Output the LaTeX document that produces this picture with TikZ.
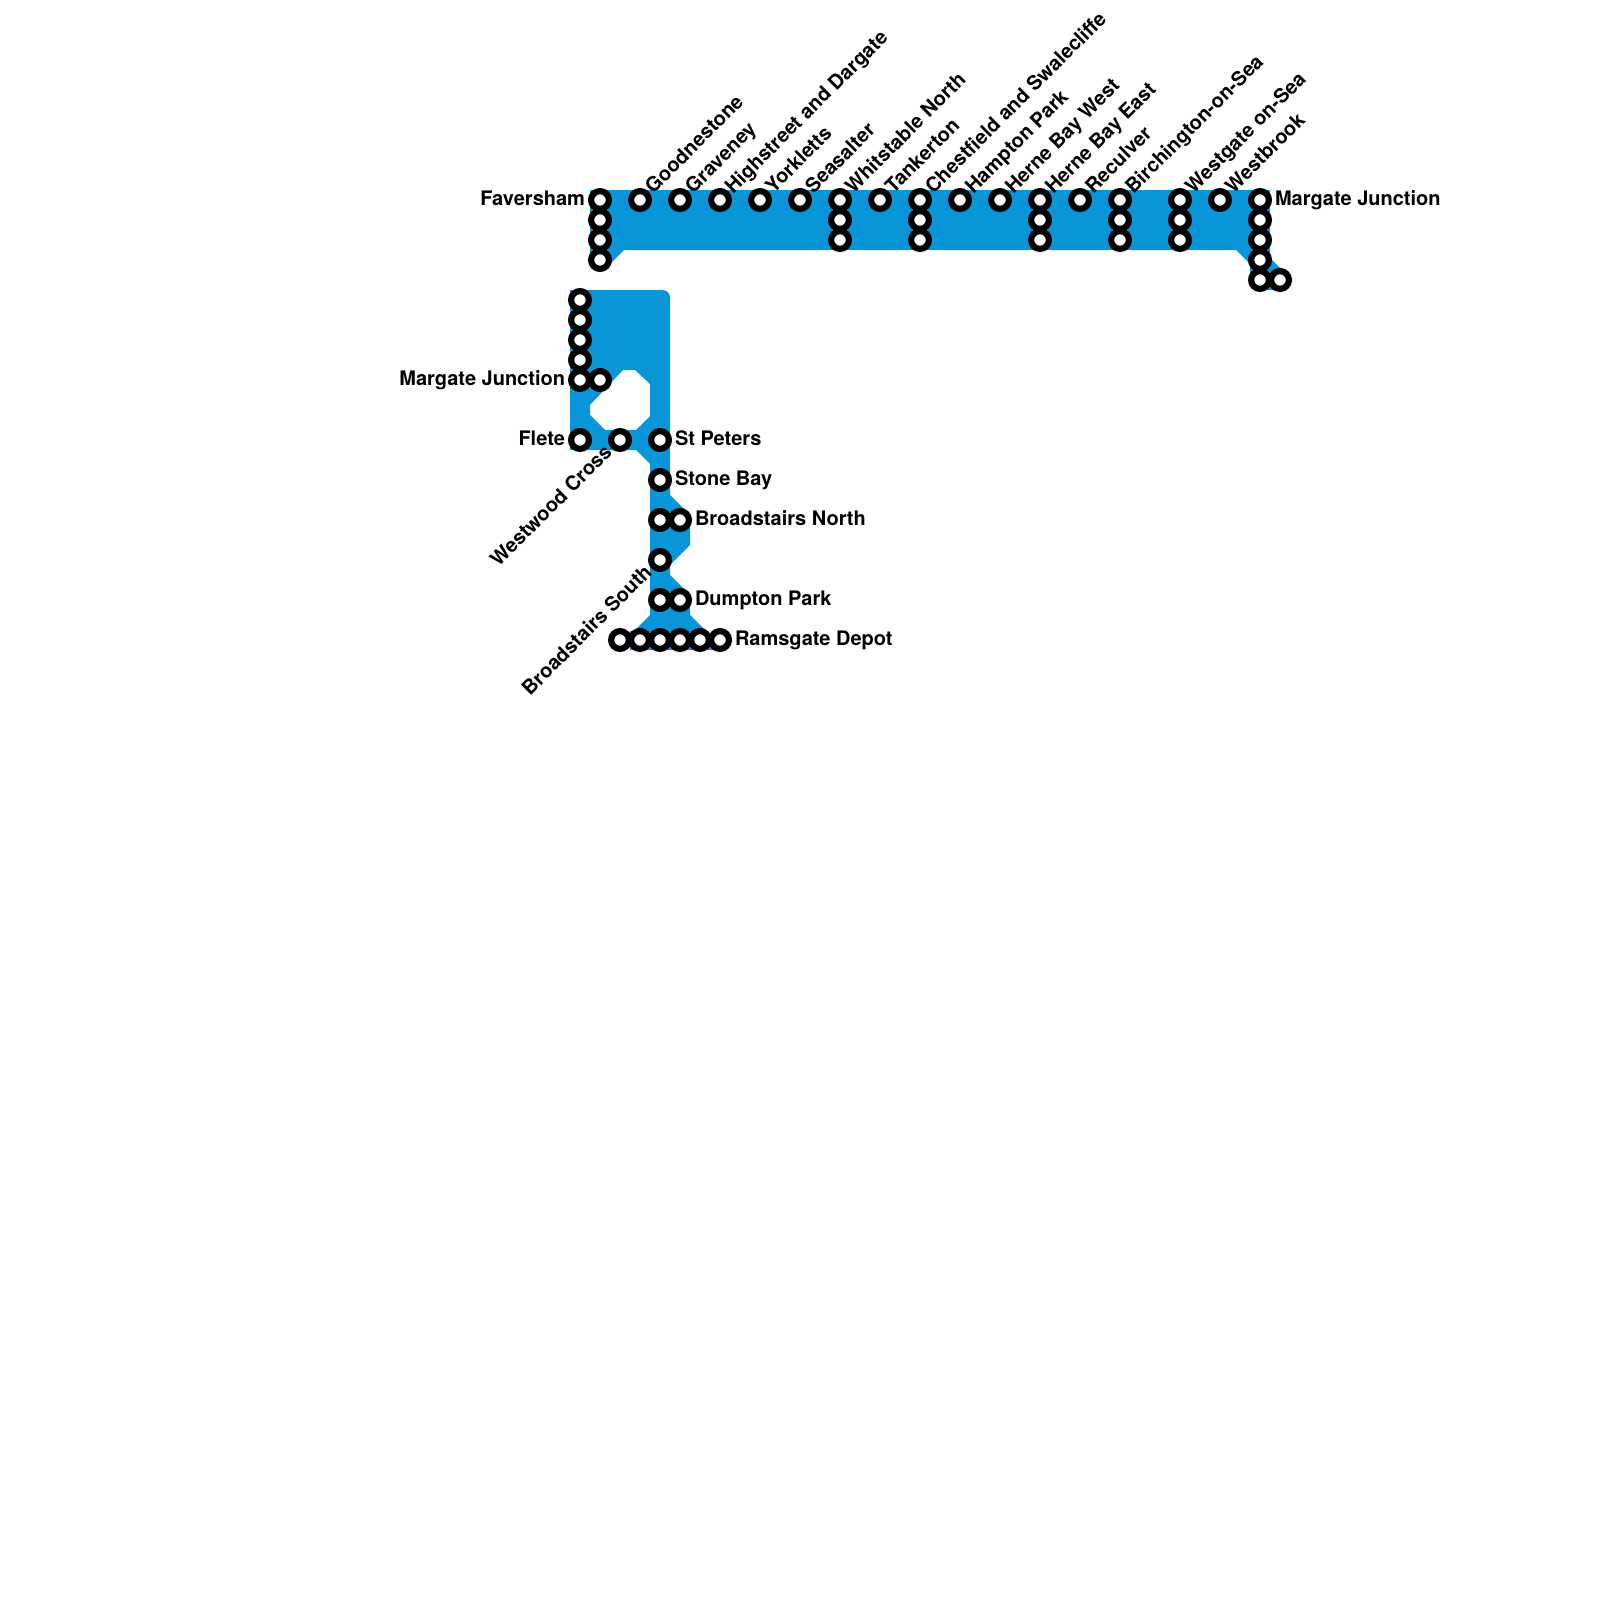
\documentclass[tikz,border=0pt]{standalone}
\usepackage{fontspec}
\setmainfont{TeX Gyre Heros}
\definecolor{lineblue}{HTML}{0996D8}
\tikzset{
  st/.style={circle,draw=black,fill=white,line width=3.1pt,minimum size=8.9pt,inner sep=0pt,outer sep=0pt},
  lab/.style={font=\bfseries\fontsize{10}{12}\selectfont,inner sep=0pt,outer sep=0pt,text=black,text height=7.5pt,text depth=2pt},
  labE/.style={lab,anchor=west},
  labW/.style={lab,anchor=east},
  labNE/.style={lab,anchor=west,rotate=45},
  labSW/.style={lab,anchor=east,rotate=45},
  band/.style={fill=lineblue,draw=none}
}
\begin{document}
\begin{tikzpicture}[x=0.5pt,y=-0.5pt]
\useasboundingbox (0,0) rectangle (1600,1600);
% bands
\fill[band] (590,190) -- (1270,190) -- (1270,258) -- (1284,272) -- (1280,290) -- (1258,290) -- (1250,280) -- (1250,264) -- (1236,250) -- (624,250) -- (606,268) -- (600,262) -- (590,262) -- cycle;
\fill[band,even odd rule] (570,290) -- (662,290) .. controls (667,290) and (670,293) .. (670,298) -- (670,495) -- (690,515) -- (690,545) -- (670,565) -- (670,575) -- (690,595) -- (690,615) -- (710,635) -- (716,650) -- (630,650) -- (628,632) -- (635,630) -- (650,615) -- (650,464) -- (636,450) -- (570,450) -- cycle
 (623,370) -- (635,370) -- (650,384) -- (650,416) -- (636,430) -- (605,430) -- (590,415) -- (590,405) -- cycle;
% stations
\foreach \n/\x/\y in {
 a1/600/200,a2/600/220,a3/600/240,a4/600/260,
 b1/640/200,b2/680/200,b3/720/200,b4/760/200,b5/800/200,
 c1/840/200,c2/840/220,c3/840/240,c4/880/200,
 d1/920/200,d2/920/220,d3/920/240,d4/960/200,d5/1000/200,
 e1/1040/200,e2/1040/220,e3/1040/240,e4/1080/200,
 f1/1120/200,f2/1120/220,f3/1120/240,
 g1/1180/200,g2/1180/220,g3/1180/240,g4/1220/200,
 h1/1260/200,h2/1260/220,h3/1260/240,h4/1260/260,h5/1260/280,h6/1280/280,
 i1/580/300,i2/580/320,i3/580/340,i4/580/360,i5/580/380,i6/600/380,
 j1/580/440,j2/620/440,j3/660/440,j4/660/480,
 k1/660/520,k2/680/520,k3/660/560,k4/660/600,k5/680/600,
 m1/620/640,m2/640/640,m3/660/640,m4/680/640,m5/700/640,m6/720/640}
 {\node[st] (\n) at (\x,\y) {};}
% labels
\node[labW] (la1) at ([xshift=-7.5pt]a1.center) {Faversham};
\foreach \s/\t in {b1/Goodnestone,b2/Graveney,b3/Highstreet and Dargate,b4/Yorkletts,b5/Seasalter,c1/Whitstable North,c4/Tankerton,d1/Chestfield and Swalecliffe,d4/Hampton Park,d5/Herne Bay West,e1/Herne Bay East,e4/Reculver,f1/Birchington-on-Sea,g1/Westgate on-Sea,g4/Westbrook}
 {\node[labNE] (l\s) at ([xshift=4.8pt,yshift=4.8pt]\s.center) {\t};}
\node[labE] (lh1) at ([xshift=7.5pt]h1.center) {Margate Junction};
\node[labW] (li5) at ([xshift=-7.5pt]i5.center) {Margate Junction};
\node[labW] (lj1) at ([xshift=-7.5pt]j1.center) {Flete};
\node[labSW] (lj2) at ([xshift=-5.5pt,yshift=-4.8pt]j2.center) {Westwood Cross};
\node[labE] (lj3) at ([xshift=7.5pt]j3.center) {St Peters};
\node[labE] (lj4) at ([xshift=7.5pt]j4.center) {Stone Bay};
\node[labE] (lk2) at ([xshift=7.5pt]k2.center) {Broadstairs North};
\node[labSW] (lk3) at ([xshift=-5.5pt,yshift=-4.8pt]k3.center) {Broadstairs South};
\node[labE] (lk5) at ([xshift=7.5pt]k5.center) {Dumpton Park};
\node[labE] (lm6) at ([xshift=7.5pt]m6.center) {Ramsgate Depot};
\end{tikzpicture}
\end{document}
